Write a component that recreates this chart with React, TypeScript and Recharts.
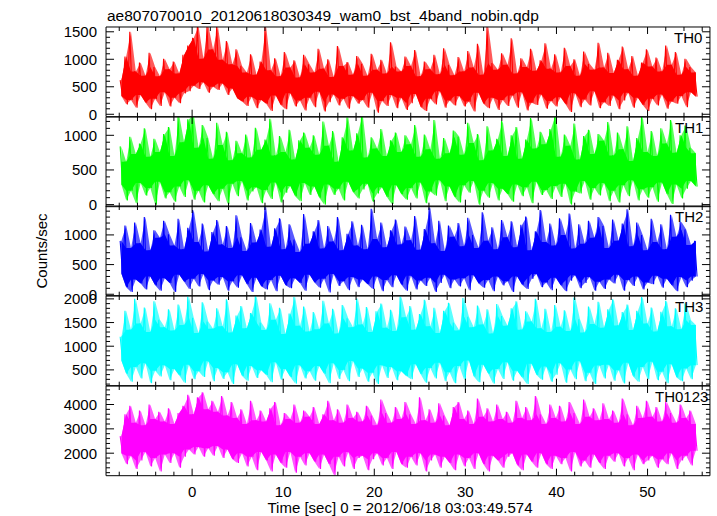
import React from 'react';
import { ComposedChart, Line, Area, XAxis, YAxis } from 'recharts';

// light curve bins: first bin time and bin spacing (sec)
const T_START = -7.9;
const T_STEP = 0.265;
const X_DOMAIN = [-9.45, 56.85];
const X_TICKS = [-8, -6, -4, -2, 0, 2, 4, 6, 8, 10, 12, 14, 16, 18, 20, 22, 24, 26, 28, 30, 32, 34, 36, 38, 40, 42, 44, 46, 48, 50, 52, 54, 56];

// rates read as alternating peak / trough pairs
const TH0 = [
  620, 330, 1050, 180, 1500, 260, 780, 120, 940, 350, 700, 210, 1120, 90, 860, 280, 690, 150, 1010, 400,
  820, 140, 960, 300, 740, 200, 1080, 380, 1250, 420, 1390, 520, 1600, 460, 1010, 580, 1620, 390, 1180, 500,
  1600, 440, 990, 560, 1330, 350, 910, 470, 1180, 290, 880, 230, 760, 150, 1090, 320, 720, 110, 960, 260,
  1590, 190, 800, 60, 1020, 340, 690, 170, 1130, 90, 850, 380, 980, 140, 670, 250, 1080, 70, 910, 300,
  760, 130, 1190, 410, 830, 50, 1000, 220, 680, 360, 1240, 160, 880, 280, 950, 100, 720, 330, 1060, 190,
  920, 260, 700, 120, 1100, 390, 810, 30, 990, 240, 740, 150, 1310, 350, 870, 110, 780, 300, 1050, 80,
  880, 200, 1170, 370, 690, 130, 960, 60, 820, 280, 1080, 180, 730, 420, 1200, 120, 900, 250, 710, 160,
  1040, 330, 780, 140, 1150, 230, 850, 50, 1280, 390, 720, 190, 1600, 110, 930, 300, 810, 80, 1110, 260,
  900, 150, 1380, 340, 740, 120, 1020, 400, 860, 70, 1190, 210, 790, 170, 980, 360, 1290, 100, 830, 240,
  1090, 140, 760, 310, 1210, 180, 880, 40, 1000, 380, 700, 130, 1140, 270, 920, 160, 810, 420, 1300, 110,
  850, 220, 1120, 150, 750, 340, 990, 90, 1230, 250, 820, 390, 1060, 120, 700, 300, 940, 170, 1180, 60,
  870, 280, 1030, 160, 780, 360, 1250, 100, 900, 230, 1130, 190, 720, 330, 1010, 130, 860, 400, 760, 320,
];

const TH1 = [
  840, 290, 620, 60, 980, 200, 730, 20, 880, 310, 1100, 130, 690, 240, 950, 0, 760, 330, 1020, 90,
  1120, 180, 700, 40, 1280, 260, 900, 110, 1230, 350, 1300, 70, 820, 200, 1150, 30, 960, 280, 660, 150,
  1180, 50, 860, 230, 1050, 10, 640, 300, 920, 120, 740, 340, 1010, 60, 680, 190, 1110, 250, 790, 20,
  940, 210, 1240, 80, 710, 320, 990, 30, 760, 170, 1080, 270, 650, 120, 930, 50, 1040, 310, 820, 140,
  1000, 260, 720, 100, 1200, 0, 850, 290, 1060, 140, 620, 230, 970, 60, 1260, 330, 780, 180, 1030, 90,
  1300, 220, 680, 300, 970, 40, 810, 160, 1090, 250, 700, 110, 930, 10, 1040, 280, 760, 150, 1000, 70,
  870, 240, 1150, 90, 690, 320, 1010, 20, 800, 190, 1220, 130, 660, 350, 960, 50, 740, 260, 1070, 110,
  980, 30, 720, 280, 1180, 170, 890, 340, 1020, 0, 640, 200, 1130, 100, 780, 310, 950, 60, 1210, 230,
  700, 150, 1000, 40, 1120, 290, 660, 120, 940, 250, 1250, 20, 810, 330, 1050, 140, 870, 210, 1090, 80,
  1300, 270, 690, 110, 1010, 300, 850, 0, 1170, 190, 650, 160, 990, 340, 1080, 70, 730, 240, 1020, 130,
  920, 310, 1190, 50, 710, 200, 1040, 30, 800, 280, 1130, 120, 630, 350, 960, 60, 1270, 220, 760, 100,
  1060, 250, 700, 40, 1100, 320, 880, 150, 1220, 10, 750, 290, 1000, 90, 1140, 230, 820, 340, 740, 260,
];

const TH2 = [
  900, 350, 1160, 120, 780, 40, 1210, 250, 860, 180, 1300, 80, 740, 300, 1080, 150, 950, 60, 1240, 270,
  1010, 190, 820, 40, 1270, 330, 760, 210, 1120, 90, 1420, 260, 880, 130, 1190, 340, 720, 70, 1050, 230,
  1250, 160, 840, 290, 1150, 60, 780, 220, 1330, 110, 960, 320, 730, 170, 1200, 40, 870, 280, 1090, 130,
  1470, 80, 800, 240, 1110, 50, 1280, 310, 760, 150, 1180, 100, 920, 270, 710, 190, 1350, 60, 850, 330,
  1060, 200, 1250, 110, 770, 260, 1150, 30, 890, 340, 1300, 140, 740, 220, 1020, 70, 1230, 290, 820, 120,
  1170, 250, 760, 170, 1440, 90, 930, 300, 1210, 50, 790, 240, 1080, 120, 1260, 320, 840, 160, 1140, 60,
  910, 310, 1320, 80, 750, 230, 1100, 140, 1460, 280, 860, 40, 1240, 190, 730, 330, 1160, 100, 970, 250,
  1200, 130, 810, 270, 1290, 70, 1000, 320, 780, 180, 1380, 110, 900, 240, 1130, 50, 760, 300, 1250, 150,
  960, 220, 1230, 40, 790, 300, 1170, 160, 1310, 90, 740, 260, 1060, 340, 1420, 120, 880, 200, 1190, 70,
  820, 280, 1280, 150, 1000, 50, 1360, 230, 770, 320, 1180, 100, 850, 190, 1240, 290, 950, 60, 1300, 210,
  1150, 90, 780, 250, 1260, 180, 900, 330, 1190, 60, 1430, 240, 810, 140, 1210, 300, 1000, 80, 740, 200,
  1270, 170, 880, 310, 1180, 110, 760, 260, 1340, 150, 970, 50, 1220, 290, 1090, 120, 830, 230, 900, 300,
];

const TH3 = [
  1200, 700, 1750, 420, 1350, 250, 2000, 560, 1480, 320, 1820, 640, 1300, 220, 1950, 480, 1560, 360, 1400, 600,
  1780, 280, 1330, 520, 1880, 380, 1450, 230, 2050, 610, 1600, 300, 1280, 470, 1930, 350, 1520, 680, 1370, 260,
  1800, 540, 1420, 310, 1990, 450, 1290, 200, 1650, 620, 1850, 370, 1380, 270, 1700, 580, 2060, 330, 1500, 490,
  1340, 390, 1910, 240, 1560, 660, 1810, 290, 1260, 520, 1690, 350, 2040, 210, 1430, 600, 1840, 320, 1310, 470,
  1720, 270, 1360, 580, 1960, 420, 1480, 220, 1790, 640, 1270, 310, 1870, 500, 1590, 260, 1400, 690, 2010, 350,
  1460, 530, 1830, 250, 1300, 440, 1740, 200, 1900, 600, 1390, 330, 1770, 560, 1320, 280, 2050, 470, 1610, 370,
  1850, 300, 1350, 620, 1680, 410, 1980, 230, 1420, 540, 1810, 320, 1280, 650, 1750, 260, 1920, 450, 1500, 220,
  1330, 580, 2020, 290, 1620, 700, 1400, 360, 1860, 240, 1460, 610, 1780, 420, 1270, 210, 1890, 520, 1640, 310,
  1430, 660, 1800, 270, 1950, 480, 1350, 340, 1740, 200, 1520, 630, 2000, 390, 1380, 290, 1790, 570, 1300, 250,
  1870, 400, 1410, 640, 1760, 230, 1320, 510, 2030, 300, 1570, 680, 1290, 260, 1840, 440, 1470, 200, 1940, 590,
  1390, 320, 1780, 610, 1990, 270, 1440, 490, 1720, 210, 1880, 650, 1340, 360, 1750, 250, 2040, 560, 1480, 300,
  1820, 670, 1310, 280, 1730, 460, 1960, 220, 1420, 620, 1800, 340, 1360, 260, 1910, 530, 1550, 300, 1450, 600,
];

const TH0123 = [
  2700, 2000, 3600, 1550, 3950, 1900, 3250, 1350, 3750, 1700, 3150, 2050, 4000, 1450, 3400, 1800, 3700, 1250, 3300, 1950,
  3850, 1600, 3200, 2000, 3650, 1400, 3950, 1850, 4400, 2150, 3600, 1950, 4300, 2250, 4500, 1850, 3800, 2200, 4150, 1900,
  3700, 2300, 4350, 1800, 3550, 2150, 4100, 1750, 3450, 1600, 3800, 2000, 3200, 1450, 4150, 1850, 3350, 1300, 3750, 2050,
  3300, 1700, 3850, 1250, 4100, 1950, 3150, 1600, 3650, 1400, 3400, 2050, 4000, 1200, 3250, 1850, 3750, 1500, 3500, 2000,
  3900, 1650, 3200, 1350, 3600, 1950, 4150, 1550, 3350, 1100, 3800, 1850, 3250, 1450, 4000, 2050, 3450, 1350, 3700, 1800,
  3300, 1900, 3950, 1300, 3550, 1750, 3150, 2000, 4200, 1500, 3650, 1800, 3250, 1350, 3900, 2050, 3400, 1550, 4100, 1400,
  3600, 1850, 3200, 1500, 4300, 2000, 3350, 1250, 3800, 1700, 3250, 1950, 4050, 1400, 3550, 1850, 3150, 1600, 3900, 1300,
  4100, 1950, 3400, 1450, 3750, 1800, 3200, 1350, 4250, 2000, 3500, 1550, 3850, 1250, 3300, 1900, 4000, 1700, 3400, 1400,
  3700, 1850, 3250, 2000, 4150, 1500, 3450, 1300, 3900, 1950, 3350, 1650, 4350, 1400, 3600, 2000, 3200, 1550, 4000, 1350,
  3450, 1900, 3950, 1550, 3300, 1800, 4100, 1250, 3650, 2050, 3200, 1450, 4200, 1700, 3500, 1400, 3850, 1950, 3350, 1600,
  4050, 1350, 3400, 1900, 3750, 1650, 3250, 2000, 4250, 1450, 3600, 1800, 3150, 1300, 3950, 1950, 3450, 1550, 4150, 1700,
  3500, 1900, 3900, 1400, 3300, 1750, 4100, 1550, 3650, 2000, 3250, 1350, 4000, 1700, 3450, 1900, 3750, 1500, 3200, 2100,
];

const FONT = '"Liberation Sans", Arial, Helvetica, sans-serif';
const PLOT_TOP = 27;
const PANEL_H = 89.7;

const range = (a: number, b: number, s: number) => {
  const out: number[] = [];
  for (let v = a; v <= b + 1e-9; v += s) out.push(v);
  return out;
};

const PANELS = [
  { name: 'TH0', color: '#ff0000', rate: TH0, domain: [-44, 1587], ticks: range(0, 1500, 100), major: 500, labelX: 674 },
  { name: 'TH1', color: '#00ff00', rate: TH1, domain: [-30, 1264], ticks: range(0, 1200, 100), major: 500, labelX: 675 },
  { name: 'TH2', color: '#0000ff', rate: TH2, domain: [-24, 1487], ticks: range(0, 1400, 100), major: 500, labelX: 675 },
  { name: 'TH3', color: '#00ffff', rate: TH3, domain: [166, 2061], ticks: range(200, 2000, 100), major: 500, labelX: 675 },
  { name: 'TH0123', color: '#ff00ff', rate: TH0123, domain: [1076, 4760], ticks: range(1200, 4600, 200), major: 1000, labelX: 655 },
];

// peak/trough pairs -> pale outer spread and the solid part shared with the next pair
const buildBands = (rate: number[]) => {
  const peaks: number[] = [];
  const troughs: number[] = [];
  for (let k = 0; k + 1 < rate.length; k += 2) {
    peaks.push(rate[k]);
    troughs.push(rate[k + 1]);
  }
  return peaks.map((hi, j) => {
    const n = Math.min(peaks.length - 1, j + 1);
    const innerHi = Math.min(hi, peaks[n]);
    const innerLo = Math.max(troughs[j], troughs[n]);
    return {
      t: T_START + (2 * j + 0.5) * T_STEP,
      env: [troughs[j], hi],
      inner: [Math.min(innerLo, innerHi), innerHi],
    };
  });
};

const XTick = ({ x, y, payload, side, showLabel }: any) => {
  const v = payload.value;
  const isMajor = v % 10 === 0;
  const len = isMajor ? 7 : 4;
  const dir = side === 'top' ? 1 : -1;
  return (
    <g>
      <line x1={x} y1={y} x2={x} y2={y + dir * len} stroke="#000" strokeWidth={1} />
      {showLabel && isMajor && (
        <text x={x} y={y + 21} textAnchor="middle" fontSize={15} fill="#000">{v}</text>
      )}
    </g>
  );
};

const YTick = ({ x, y, payload, side, major }: any) => {
  const v = payload.value;
  const isMajor = v % major === 0;
  const len = isMajor ? 8 : 4;
  const dir = side === 'left' ? 1 : -1;
  return (
    <g>
      <line x1={x} y1={y} x2={x + dir * len} y2={y} stroke="#000" strokeWidth={1} />
      {side === 'left' && isMajor && (
        <text x={x - 9} y={y} dy="0.36em" textAnchor="end" fontSize={15} fill="#000">{v}</text>
      )}
    </g>
  );
};

const Panel = ({ p, idx }: any) => {
  const top = PLOT_TOP + idx * PANEL_H;
  const rows = p.rate.map((v: number, i: number) => ({ t: T_START + i * T_STEP, v }));
  const bands = buildBands(p.rate);
  const last = idx === PANELS.length - 1;
  return (
    <div style={{ position: 'absolute', left: 0, top: top - 1 }}>
      <ComposedChart width={717} height={PANEL_H + 2} margin={{ top: 0, right: 0, bottom: 0, left: 0 }}>
        <XAxis
          type="number" dataKey="t" domain={X_DOMAIN} ticks={X_TICKS} interval={0}
          allowDataOverflow height={1} tickSize={0} tickMargin={0} tickLine={false}
          axisLine={{ stroke: '#000' }}
          tick={(props: any) => <XTick {...props} side="bottom" showLabel={last} />}
        />
        <XAxis
          xAxisId="top" orientation="top" type="number" dataKey="t" domain={X_DOMAIN} ticks={X_TICKS} interval={0}
          allowDataOverflow height={1} tickSize={0} tickMargin={0} tickLine={false}
          axisLine={{ stroke: '#000' }}
          tick={(props: any) => <XTick {...props} side="top" />}
        />
        <YAxis
          type="number" domain={p.domain} ticks={p.ticks} interval={0} allowDataOverflow
          width={106} tickSize={0} tickMargin={0} tickLine={false} axisLine={{ stroke: '#000' }}
          tick={(props: any) => <YTick {...props} side="left" major={p.major} />}
        />
        <YAxis
          yAxisId="r" orientation="right" type="number" domain={p.domain} ticks={p.ticks} interval={0} allowDataOverflow
          width={7} tickSize={0} tickMargin={0} tickLine={false} axisLine={{ stroke: '#000' }}
          tick={(props: any) => <YTick {...props} side="right" major={p.major} />}
        />
        <Area data={bands} dataKey="env" type="linear" fill={p.color} fillOpacity={0.65} stroke="none" isAnimationActive={false} />
        <Area data={bands} dataKey="inner" type="linear" fill={p.color} fillOpacity={1} stroke="none" isAnimationActive={false} />
        <Line data={rows} dataKey="v" type="linear" stroke={p.color} strokeWidth={1.1} dot={false} isAnimationActive={false} />
      </ComposedChart>
    </div>
  );
};

export default function App() {
  return (
    <div style={{ position: 'absolute', left: 0, top: 0, width: 717, height: 516, background: '#fff', fontFamily: FONT }}>
      <style>{'.recharts-surface{overflow:visible}'}</style>
      {PANELS.map((p, i) => <Panel key={p.name} p={p} idx={i} />)}
      <svg width={717} height={516} style={{ position: 'absolute', left: 0, top: 0, pointerEvents: 'none' }}>
        <text x={107} y={21} fontSize={15.5} fill="#000">ae807070010_20120618030349_wam0_bst_4band_nobin.qdp</text>
        <text x={400} y={513} fontSize={15} fill="#000" textAnchor="middle">Time [sec] 0 = 2012/06/18 03:03:49.574</text>
        <text x={42} y={251} fontSize={15} fill="#000" textAnchor="middle" dy="0.36em" transform="rotate(-90 42 251)">Counts/sec</text>
        {PANELS.map((p, i) => (
          <text key={p.name} x={p.labelX} y={PLOT_TOP + i * PANEL_H + 16} fontSize={15} fill="#000">{p.name}</text>
        ))}
      </svg>
    </div>
  );
}
